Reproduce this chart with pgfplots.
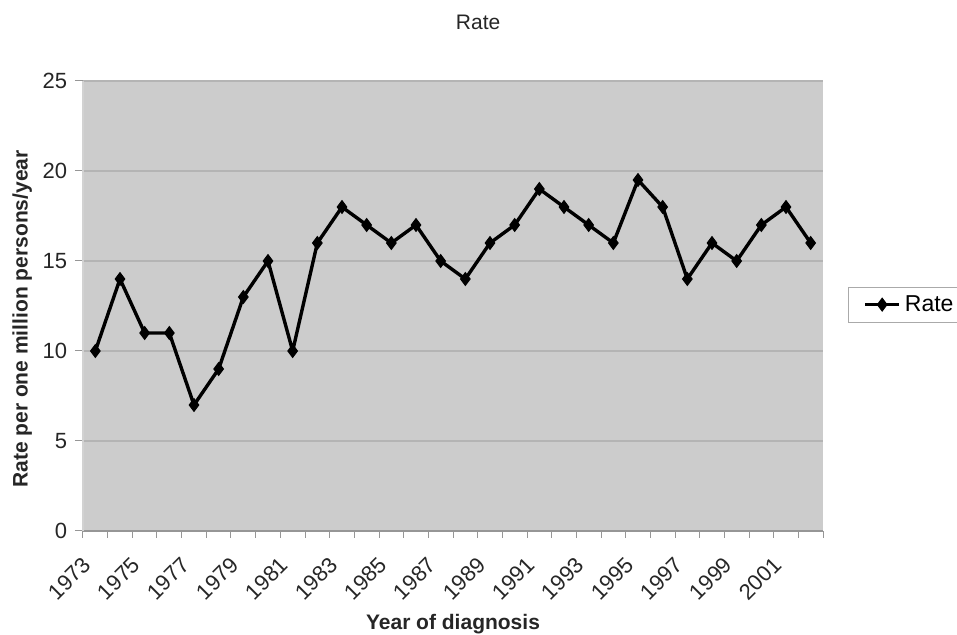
\documentclass[border=0pt]{standalone}
\usepackage{fontspec}
\setmainfont{Liberation Sans}
\usepackage{pgfplots}
\usepackage{pgfplotstable}
\pgfplotsset{compat=1.18}
\definecolor{plotbg}{RGB}{204,204,204}
\definecolor{gridgray}{RGB}{180,180,180}
\definecolor{axisgray}{RGB}{150,150,150}
\definecolor{legframe}{RGB}{170,170,170}

% Annual rate per one million persons, 1973--2002 (years plotted at 0..29)
\pgfplotstableread{
idx rate
0  10
1  14
2  11
3  11
4  7
5  9
6  13
7  15
8  10
9  16
10 18
11 17
12 16
13 17
14 15
15 14
16 16
17 17
18 19
19 18
20 17
21 16
22 19.5
23 18
24 14
25 16
26 15
27 17
28 18
29 16
}\ratedata

\begin{document}
\begin{tikzpicture}
\useasboundingbox (-41.5pt,-52pt) rectangle (437pt,265.5pt);
\begin{axis}[
  at={(0,0)}, anchor=south west,
  scale only axis, width=370pt, height=225pt,
  xmin=-0.5, xmax=29.5, ymin=0, ymax=25,
  axis background/.style={fill=plotbg},
  axis x line*=bottom, axis y line*=left,
  x axis line style={axisgray, line width=0.8pt},
  y axis line style={gray!35, line width=0.6pt},
  ytick={0,5,...,25},
  ymajorgrids, grid style={gridgray, line width=0.7pt},
  xtick={0,2,...,28},
  xticklabels={1973,1975,1977,1979,1981,1983,1985,1987,1989,1991,1993,1995,1997,1999,2001},
  minor xtick={-0.5,0.5,...,29.5},
  major x tick style={draw=none},
  minor x tick style={axisgray, line width=0.5pt},
  y tick style={axisgray, line width=0.5pt},
  tick align=outside,
  major tick length=4pt, minor tick length=3.5pt,
  /pgf/number format/assume math mode=true,
  ticklabel style={text=black!85},
  yticklabel style={font=\fontsize{11}{13}\selectfont, anchor=east, inner sep=0pt, xshift=-3.8pt},
  xticklabel style={font=\fontsize{11}{13}\selectfont, xshift=-7pt, yshift=-8pt, rotate=45, anchor=north east, inner sep=0pt},
  title={Rate},
  title style={at={(0.534,1.104)}, anchor=center, font=\fontsize{10.5}{12}\selectfont, text=black!85},
  xlabel={Year of diagnosis},
  xlabel style={at={(0.5,-0.207)}, anchor=center, font=\bfseries\fontsize{10.5}{12}\selectfont, text=black!85},
  ylabel={Rate per one million persons/year},
  ylabel style={at={(-0.082,0.471)}, anchor=center, font=\bfseries\fontsize{10.5}{12}\selectfont, text=black!85},
  legend style={at={(1.0338,0.503)}, anchor=west, draw=legframe, fill=white,
    font=\fontsize{11.5}{13}\selectfont, inner xsep=7.5pt, inner ysep=2pt},
  legend cell align=left,
]
\addplot[black, line width=1.7pt, mark=diamond*, mark size=3.2pt,
  mark options={solid, line width=0.5pt}] table[x=idx, y=rate] {\ratedata};
\addlegendentry{Rate}
\end{axis}
\end{tikzpicture}
\end{document}
